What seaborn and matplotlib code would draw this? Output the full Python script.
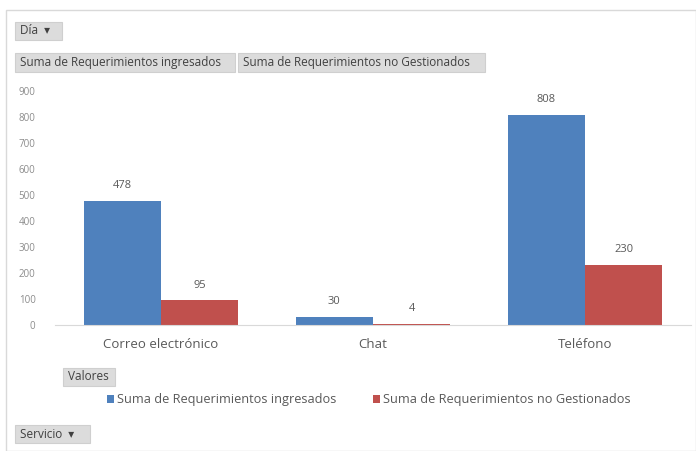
import matplotlib
matplotlib.use("Agg")
import matplotlib.pyplot as plt
import seaborn as sns
import pandas as pd
from matplotlib.patches import Rectangle

categories = ["Correo electrónico", "Chat", "Teléfono"]
ingresados = [478, 30, 808]
no_gestionados = [95, 4, 230]
series_names = ["Suma de Requerimientos ingresados", "Suma de Requerimientos no Gestionados"]
yticks = [0, 100, 200, 300, 400, 500, 600, 700, 800, 900]

df = pd.DataFrame({
    "Servicio": categories * 2,
    "Valor": ingresados + no_gestionados,
    "Serie": [series_names[0]] * 3 + [series_names[1]] * 3,
})

sns.set_style("white")
FONT = ["Open Sans", "DejaVu Sans"]
plt.rcParams["font.family"] = FONT

W, H = 696, 451
fig = plt.figure(figsize=(W / 100, H / 100), dpi=100)

def fx(px):
    return px / W

def fy(py):
    return 1 - py / H

ax = fig.add_axes([fx(55), fy(325), fx(691) - fx(55), fy(91) - fy(325)])
palette = {series_names[0]: "#4F81BD", series_names[1]: "#C0504D"}
sns.barplot(data=df, x="Servicio", y="Valor", hue="Serie", palette=palette,
            width=0.73, ax=ax, saturation=1, legend=True, linewidth=0, edgecolor="none")

ax.set_ylim(0, 900)
ax.set_yticks(yticks)
ax.set_xlabel("")
ax.set_ylabel("")
for s in ["top", "right", "left"]:
    ax.spines[s].set_visible(False)
ax.spines["bottom"].set_color("#d9d9d9")
ax.tick_params(axis="y", length=0, pad=14, labelsize=7, labelcolor="#8c8c8c")
ax.tick_params(axis="x", length=0, pad=9, labelsize=9.5, labelcolor="#595959")
ax.set_xlim(-0.5, 2.5)

for cont in ax.containers:
    ax.bar_label(cont, fmt="%d", padding=7, fontsize=8, color="#595959")

handles, labels = ax.get_legend_handles_labels()
ax.get_legend().remove()
fig.legend(handles, labels, loc="center left", bbox_to_anchor=(fx(95), fy(400)),
           ncol=2, frameon=False, fontsize=9.2, handlelength=0.55, handleheight=0.55,
           handletextpad=0.3, columnspacing=2.8, labelcolor="#595959")

# outer chart border
fig.patches.append(Rectangle((fx(6), 0), 1 - fx(6), fy(10), transform=fig.transFigure,
                             fill=False, edgecolor="#d9d9d9", linewidth=1))

def button(x0, y0, x1, y1, text, arrow=False):
    fig.patches.append(Rectangle((fx(x0), fy(y1)), fx(x1) - fx(x0), fy(y0) - fy(y1),
                                 transform=fig.transFigure, facecolor="#dcdcdc",
                                 edgecolor="#cfcfcf", linewidth=0.8))
    fig.text(fx(x0 + 5), fy((y0 + y1) / 2), text + ("  ▾" if arrow else ""),
             ha="left", va="center", fontsize=8.5, color="#404040", family=FONT)

button(15, 22, 62, 40, "Día", arrow=True)
button(15, 53, 235, 72, "Suma de Requerimientos ingresados")
button(238, 53, 485, 72, "Suma de Requerimientos no Gestionados")
button(63, 368, 115, 386, "Valores")
button(15, 425, 90, 443, "Servicio", arrow=True)

fig.savefig("out.png", dpi=100)
